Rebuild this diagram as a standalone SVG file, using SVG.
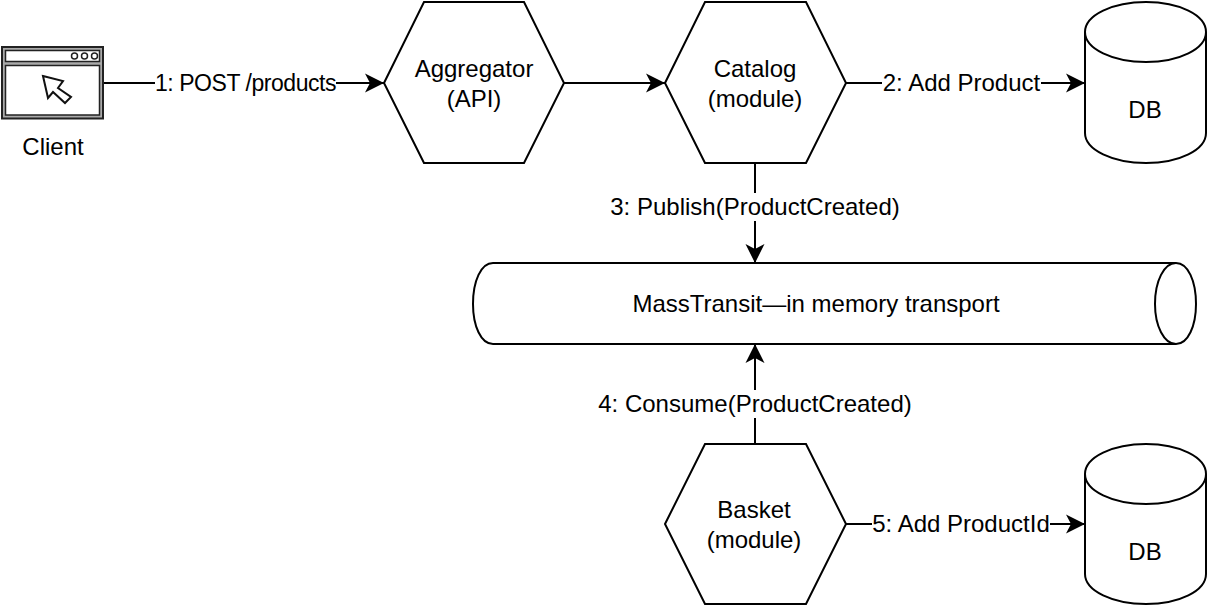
<svg xmlns="http://www.w3.org/2000/svg" width="1209" height="607" viewBox="0 0 1209 607">
<defs>
<marker id="arrow" markerUnits="userSpaceOnUse" markerWidth="20" markerHeight="20" refX="19" refY="10" orient="auto">
<path d="M0,0.500 L19,10 L0,19.500 L5,10 Z" fill="#000"/>
</marker>
</defs>
<style>
.s{fill:#fff;stroke:#000;stroke-width:2}
.l{fill:none;stroke:#000;stroke-width:2}
.c{fill:none;stroke:#000;stroke-width:2;marker-end:url(#arrow)}
text{font-family:"Liberation Sans",Arial,sans-serif;font-size:24px;fill:#000;text-anchor:middle}
.small{font-size:23px;letter-spacing:-0.45px}
.b{fill:#fff;stroke:none}
</style>
<rect width="1209" height="607" fill="#fff"/>
<g id="connectors">
<path class="c" d="M104 83H384"/>
<path class="c" d="M564 83H665"/>
<path class="c" d="M846 83H1085"/>
<path class="c" d="M755 163V263"/>
<path class="c" d="M755 444V344"/>
<path class="c" d="M846 524H1085"/>
<rect class="b" x="155" y="70" width="181" height="26"/>
<text class="small" x="245.500" y="91">1: POST /products</text>
<rect class="b" x="882" y="70" width="159" height="26"/>
<text x="961.500" y="91">2: Add Product</text>
<rect class="b" x="609" y="193" width="292" height="28"/>
<text x="755" y="215">3: Publish(ProductCreated)</text>
<rect class="b" x="597" y="390" width="316" height="28"/>
<text x="755" y="412">4: Consume(ProductCreated)</text>
<rect class="b" x="872" y="511" width="178" height="26"/>
<text x="961" y="532">5: Add ProductId</text>
</g>
<g id="client">
<rect x="2" y="47" width="101" height="71.500" fill="#aaa" stroke="#222" stroke-width="2"/>
<rect x="5.500" y="50.500" width="94" height="11" fill="#fff" stroke="#222" stroke-width="1.500"/>
<rect x="5.500" y="65.500" width="94" height="49.500" fill="#fff" stroke="#222" stroke-width="1.500"/>
<circle cx="74.500" cy="56" r="3" fill="#fff" stroke="#222" stroke-width="1.500"/>
<circle cx="84.500" cy="56" r="3" fill="#fff" stroke="#222" stroke-width="1.500"/>
<circle cx="94.500" cy="56" r="3" fill="#fff" stroke="#222" stroke-width="1.500"/>
<path d="M43 76L63 81L58 88L71 97L65 103L53 92L48 98Z" fill="#fff" stroke="#111" stroke-width="2"/>
<text x="53" y="155">Client</text>
</g>
<g id="aggregator">
<path class="s" d="M384 83L424 2H524L564 83L524 163H424Z"/>
<text x="474" y="76.500">Aggregator</text>
<text x="474" y="106.500">(API)</text>
</g>
<g id="catalog">
<path class="s" d="M665 83L705 2H806L846 83L806 163H705Z"/>
<text x="755" y="76.500">Catalog</text>
<text x="755" y="106.500">(module)</text>
</g>
<g id="db1">
<path class="s" d="M1085 32C1085 15 1113 2 1146 2C1179 2 1206 15 1206 32V133C1206 150 1179 163 1146 163C1113 163 1085 150 1085 133Z"/>
<path class="l" d="M1085 32C1085 49 1113 62 1146 62C1179 62 1206 49 1206 32"/>
<text x="1145" y="117.500">DB</text>
</g>
<g id="masstransit">
<path class="s" d="M493 263H1176C1188 263 1196 281 1196 304C1196 326 1188 344 1176 344H493C481 344 473 326 473 304C473 281 481 263 493 263Z"/>
<path class="l" d="M1176 263C1164 263 1155 281 1155 304C1155 326 1164 344 1176 344"/>
<text x="816" y="312">MassTransit—in memory transport</text>
</g>
<g id="basket">
<path class="s" d="M665 524L705 444H806L846 524L806 604H705Z"/>
<text x="754" y="518">Basket</text>
<text x="754" y="548">(module)</text>
</g>
<g id="db2">
<path class="s" d="M1085 474C1085 457 1113 444 1146 444C1179 444 1206 457 1206 474V574C1206 591 1179 604 1146 604C1113 604 1085 591 1085 574Z"/>
<path class="l" d="M1085 474C1085 491 1113 504 1146 504C1179 504 1206 491 1206 474"/>
<text x="1145" y="560">DB</text>
</g>
</svg>
